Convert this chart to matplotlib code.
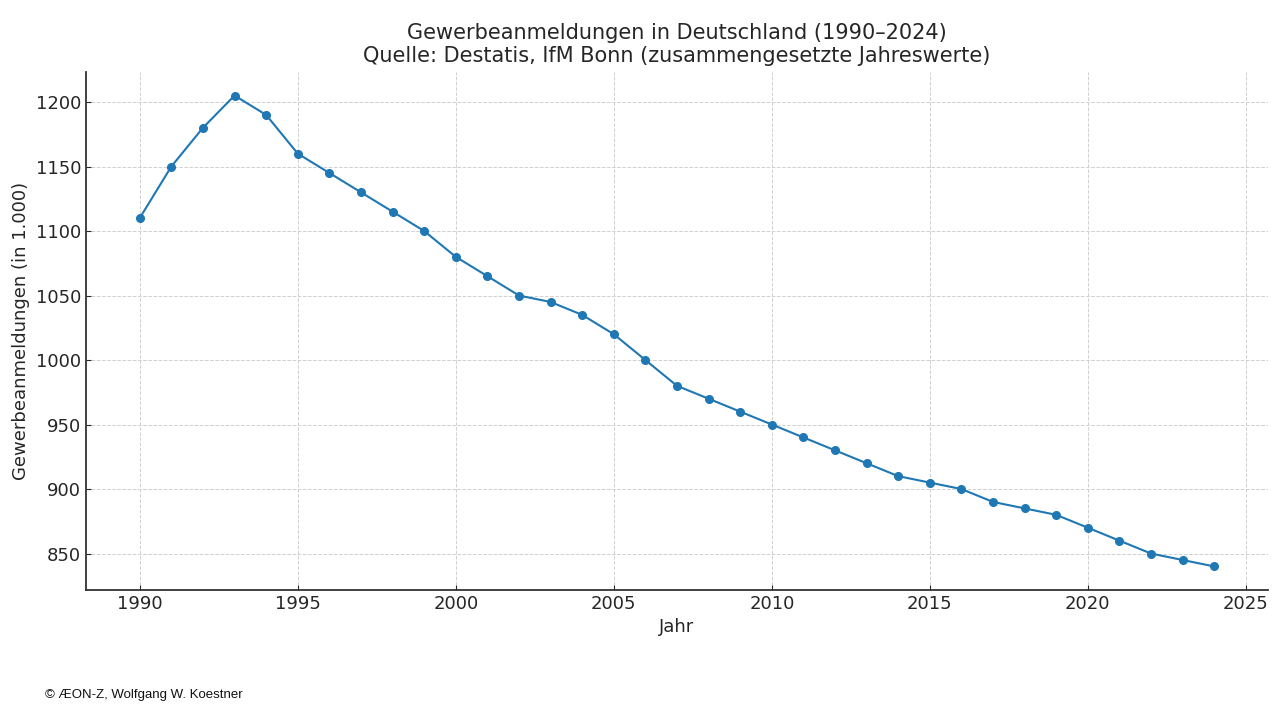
import matplotlib.pyplot as plt

# Jahreswerte (in 1.000)
jahre = list(range(1990, 2025))
anmeldungen = [1110, 1150, 1180, 1205, 1190, 1160, 1145, 1130, 1115, 1100,
               1080, 1065, 1050, 1045, 1035, 1020, 1000, 980, 970, 960,
               950, 940, 930, 920, 910, 905, 900, 890, 885, 880,
               870, 860, 850, 845, 840]

fig = plt.figure(figsize=(12.8, 7.2), dpi=100)
ax = fig.add_axes([86 / 1280, 1 - 590 / 720, (1268 - 86) / 1280, (590 - 72) / 720])

ax.plot(jahre, anmeldungen, marker='o', color='#1f77b4', linewidth=1.5, markersize=5.5)

ax.set_title('Gewerbeanmeldungen in Deutschland (1990–2024)\n'
             'Quelle: Destatis, IfM Bonn (zusammengesetzte Jahreswerte)',
             fontsize=15, color='#262626', pad=7, linespacing=1.22)
ax.set_xlabel('Jahr', fontsize=13, color='#262626')
ax.set_ylabel('Gewerbeanmeldungen (in 1.000)', fontsize=13, color='#262626')

ax.grid(True, linestyle='--', color='#d0d0d0', linewidth=0.7)
ax.set_axisbelow(True)
for side in ['top', 'right']:
    ax.spines[side].set_visible(False)
for side in ['left', 'bottom']:
    ax.spines[side].set_color('#333333')
    ax.spines[side].set_linewidth(1.3)
ax.tick_params(labelsize=13, direction='in', colors='#262626')

fig.text(45 / 1280, 1 - 695 / 720, '© ÆON-Z, Wolfgang W. Koestner',
         fontsize=9.5, family='Liberation Sans', va='center', color='#111111')

plt.savefig('out.png', dpi=100)
